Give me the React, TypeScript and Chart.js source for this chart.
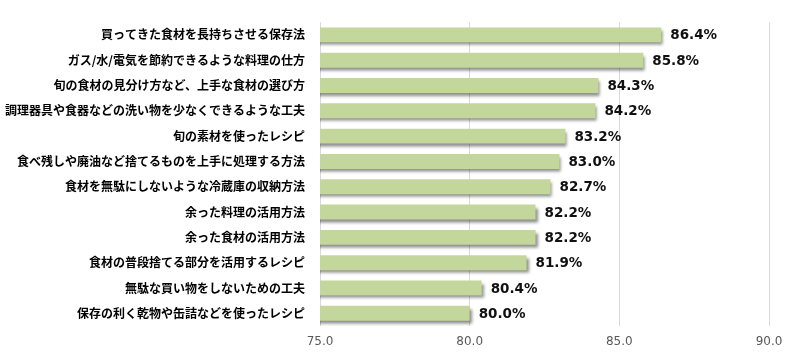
import React, { useEffect, useRef } from "react";
import { Chart, registerables } from "chart.js";

Chart.register(...registerables);

const categories = [
  "買ってきた食材を長持ちさせる保存法",
  "ガス/水/電気を節約できるような料理の仕方",
  "旬の食材の見分け方など、上手な食材の選び方",
  "調理器具や食器などの洗い物を少なくできるような工夫",
  "旬の素材を使ったレシピ",
  "食べ残しや廃油など捨てるものを上手に処理する方法",
  "食材を無駄にしないような冷蔵庫の収納方法",
  "余った料理の活用方法",
  "余った食材の活用方法",
  "食材の普段捨てる部分を活用するレシピ",
  "無駄な買い物をしないための工夫",
  "保存の利く乾物や缶詰などを使ったレシピ",
];

const values = [86.4, 85.8, 84.3, 84.2, 83.2, 83.0, 82.7, 82.2, 82.2, 81.9, 80.4, 80.0];

const axisMin = 75;
const axisMax = 90;
const axisStep = 5;

const shadowPlugin = {
  id: "barShadow",
  beforeDatasetsDraw(chart: any) {
    const ctx = chart.ctx;
    ctx.save();
    ctx.shadowColor = "rgba(0,0,0,0.45)";
    ctx.shadowOffsetX = 2;
    ctx.shadowOffsetY = 3;
    ctx.shadowBlur = 3;
  },
  afterDatasetsDraw(chart: any) {
    chart.ctx.restore();
    const ctx = chart.ctx;
    const meta = chart.getDatasetMeta(0);
    ctx.save();
    ctx.font = "bold 13.5px 'DejaVu Sans', sans-serif";
    ctx.fillStyle = "#111";
    ctx.textAlign = "left";
    ctx.textBaseline = "middle";
    meta.data.forEach((bar: any, i: number) => {
      const v = chart.data.datasets[0].data[i] as number;
      ctx.fillText(v.toFixed(1) + "%", bar.x + 9, bar.y + 1);
    });
    ctx.restore();
  },
};

export default function App() {
  const ref = useRef<HTMLCanvasElement | null>(null);
  useEffect(() => {
    if (!ref.current) return;
    const chart = new Chart(ref.current, {
      type: "bar",
      data: {
        labels: categories,
        datasets: [
          {
            data: values,
            backgroundColor: "#c3d69b",
            borderWidth: 0,
            barPercentage: 0.59,
            categoryPercentage: 1,
          },
        ],
      },
      options: {
        indexAxis: "y",
        animation: false,
        responsive: false,
        maintainAspectRatio: false,
        layout: { padding: { top: 2, right: 31, left: 0, bottom: 0 } },
        plugins: {
          legend: { display: false },
          tooltip: { enabled: false },
        },
        scales: {
          x: {
            min: axisMin,
            max: axisMax,
            ticks: {
              stepSize: axisStep,
              callback: (v: any) => Number(v).toFixed(1),
              font: { family: "'DejaVu Sans', sans-serif", size: 12 },
              color: "#595959",
              padding: 9,
            },
            grid: { color: "#d9d9d9", drawTicks: false },
            border: { display: false },
            afterFit: (scale: any) => {
              scale.height = 36;
            },
          },
          y: {
            ticks: {
              font: { family: "'Noto Sans CJK JP', sans-serif", size: 12, weight: "bold" },
              color: "#000",
              padding: 15,
              autoSkip: false,
            },
            grid: { display: false, drawTicks: false },
            border: { display: false },
            afterFit: (scale: any) => {
              scale.width = 320;
            },
          },
        },
      },
      plugins: [shadowPlugin],
    });
    return () => chart.destroy();
  }, []);
  return (
    <div style={{ position: "fixed", left: 0, top: 0, width: 800, height: 362, background: "#fff" }}>
      <canvas ref={ref} width={800} height={362} />
    </div>
  );
}
